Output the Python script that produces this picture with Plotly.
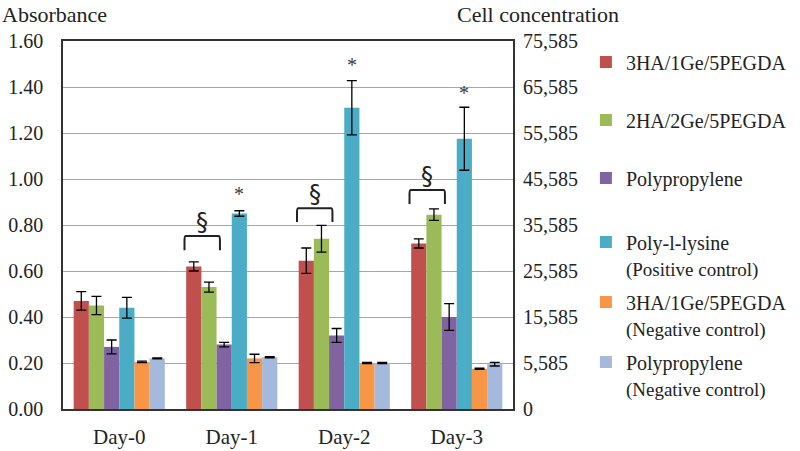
import plotly.graph_objects as go

# categories and series (absorbance, mean and error)
days = ["Day-0", "Day-1", "Day-2", "Day-3"]
series_names = [
    "3HA/1Ge/5PEGDA",
    "2HA/2Ge/5PEGDA",
    "Polypropylene",
    "Poly-l-lysine",
    "3HA/1Ge/5PEGDA",
    "Polypropylene",
]
series_notes = ["", "", "", "(Positive control)", "(Negative control)", "(Negative control)"]
colors = ["#C0504D", "#9BBB59", "#8064A2", "#4BACC6", "#F79646", "#A5B9DC"]

ha3 = [0.47, 0.62, 0.645, 0.72]
ha3_err = [0.04, 0.02, 0.055, 0.02]
ha2 = [0.45, 0.53, 0.74, 0.845]
ha2_err = [0.04, 0.022, 0.058, 0.025]
pp = [0.27, 0.28, 0.32, 0.40]
pp_err = [0.03, 0.01, 0.03, 0.058]
pll = [0.44, 0.85, 1.31, 1.175]
pll_err = [0.045, 0.012, 0.118, 0.137]
ha3_neg = [0.205, 0.22, 0.20, 0.175]
ha3_neg_err = [0.003, 0.018, 0.003, 0.003]
pp_neg = [0.22, 0.225, 0.20, 0.195]
pp_neg_err = [0.002, 0.003, 0.003, 0.008]

values = [ha3, ha2, pp, pll, ha3_neg, pp_neg]
errors = [ha3_err, ha2_err, pp_err, pll_err, ha3_neg_err, pp_neg_err]

# axes
abs_ticks = [0.0, 0.2, 0.4, 0.6, 0.8, 1.0, 1.2, 1.4, 1.6]
cell_ticks = ["0", "5,585", "15,585", "25,585", "35,585", "45,585", "55,585", "65,585", "75,585"]

# significance marks (days 1-3): bracket base / top, star heights
sig_days = [1, 2, 3]
bracket_base = [0.69, 0.813, 0.891]
bracket_top = [0.752, 0.873, 0.952]
star_y = [0.935, 1.496, 1.374]

SERIF = "Liberation Serif"
x = list(range(len(days)))

fig = go.Figure()
for i, (name, note, col, v, e) in enumerate(zip(series_names, series_notes, colors, values, errors)):
    label = name + "<br>" + (
        "<span style='font-size:19px'>" + note + "</span>" if note else " ")
    fig.add_trace(go.Bar(
        x=x, y=v, name=label, marker=dict(color=col, line=dict(width=0)),
        error_y=dict(type="data", array=e, color="black", thickness=1.3, width=5),
        legendgroup=name + note, legend="legend" if i < 3 else "legend2",
    ))

# invisible trace to carry the right axis
fig.add_trace(go.Scatter(x=[0], y=[0], yaxis="y2", mode="markers",
                         marker=dict(opacity=0), showlegend=False, hoverinfo="skip"))

gw = 0.81
bw = gw / 6
for d, b0, b1, sy in zip(sig_days, bracket_base, bracket_top, star_y):
    xl = d - 0.42
    xr = d - 0.105
    r = 0.018
    rx = 0.012
    path = (f"M {xl},{b0} L {xl},{b1 - r} Q {xl},{b1} {xl + rx},{b1} "
            f"L {xr - rx},{b1} Q {xr},{b1} {xr},{b1 - r} L {xr},{b0}")
    fig.add_shape(type="path", path=path, xref="x", yref="y",
                  line=dict(color="#222222", width=2))
    fig.add_annotation(x=(xl + xr) / 2, y=b1, yanchor="bottom", yshift=-2, text="§",
                       showarrow=False, font=dict(family="DejaVu Sans", size=24, color="#222222"))
    fig.add_annotation(x=d + 0.5 * bw, y=sy, text="*", showarrow=False,
                       font=dict(family=SERIF, size=20, color="#404040"))

fig.add_annotation(x=0, y=1, xref="paper", yref="paper", xshift=-63, yshift=41,
                   xanchor="left", yanchor="top", text="Absorbance", showarrow=False,
                   font=dict(family=SERIF, size=22, color="#222222"))
fig.add_annotation(x=1, y=1, xref="paper", yref="paper", xshift=-58, yshift=41,
                   xanchor="left", yanchor="top", text="Cell concentration", showarrow=False,
                   font=dict(family=SERIF, size=22, color="#222222"))

legend_style = dict(xanchor="left", yanchor="top", valign="top",
                    traceorder="grouped",
                    font=dict(family=SERIF, size=20, color="#222222"),
                    itemwidth=30, bgcolor="rgba(0,0,0,0)")

fig.update_layout(
    width=800, height=451,
    margin=dict(l=63, r=287, t=41, b=42, autoexpand=False),
    paper_bgcolor="white", plot_bgcolor="white",
    barmode="group", bargap=0.19, bargroupgap=0,
    font=dict(family=SERIF, size=20, color="#222222"),
    xaxis=dict(range=[-0.5, 3.5], tickvals=x, ticktext=days, showgrid=False,
               showline=True, mirror=True, linecolor="#333333", linewidth=1.5,
               zeroline=False, ticks="", ticklabelstandoff=8,
               tickfont=dict(size=21)),
    yaxis=dict(range=[0, 1.6], tickvals=abs_ticks, tickformat=".2f",
               showgrid=True, gridcolor="#A6A6A6", gridwidth=1,
               showline=True, mirror=True, linecolor="#333333", linewidth=1.5,
               zeroline=False, ticks="", ticklabelstandoff=14),
    yaxis2=dict(range=[0, 1.6], overlaying="y", side="right", tickvals=abs_ticks,
                ticktext=cell_ticks, showgrid=False, zeroline=False, ticks="",
                ticklabelstandoff=9, showline=False),
    legend=dict(x=1.162, y=0.996, tracegroupgap=3, **legend_style),
    legend2=dict(x=1.162, y=0.507, tracegroupgap=5, **legend_style),
    showlegend=True,
)

fig.write_html("out.html", post_script="document.body.style.margin='0';",
               config={"displayModeBar": False})
